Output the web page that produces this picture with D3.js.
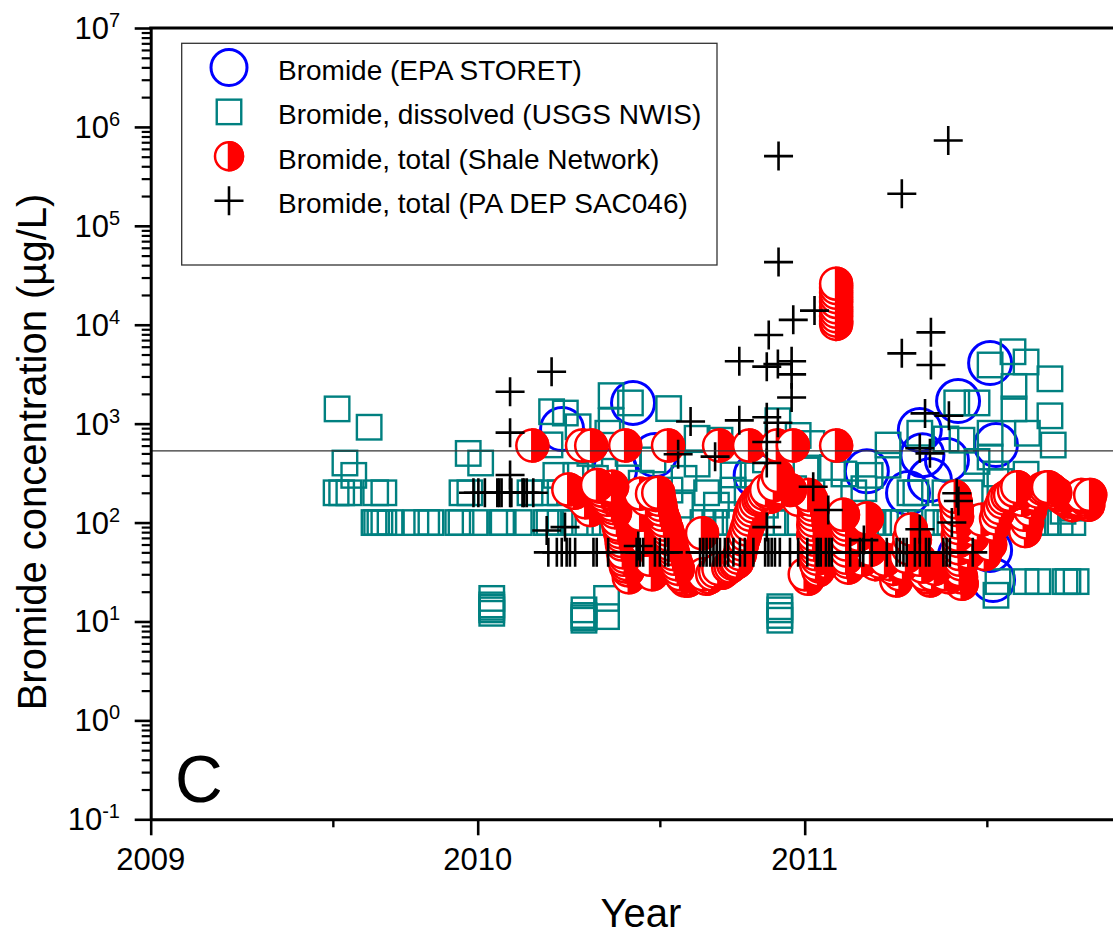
<!DOCTYPE html>
<html>
<head>
<meta charset="utf-8">
<script src="https://cdn.jsdelivr.net/npm/d3@7"></script>
<style>
  body { margin: 0; background: #fff; }
  svg { display: block; }
  text { font-family: "Liberation Sans", Arial, Helvetica, sans-serif; fill: #000; }
</style>
</head>
<body>
<svg id="chart" width="1113" height="936"></svg>
<script>
// ---- axis ticks ----
const yearTicks = [2009, 2010, 2011];
const yearMinorTicks = [2009.557, 2010.557, 2011.557];
const decadeExponents = [-1, 0, 1, 2, 3, 4, 5, 6, 7];

// ---- legend labels ----
const seriesLabels = [
  "Bromide (EPA STORET)",
  "Bromide, dissolved (USGS NWIS)",
  "Bromide, total (Shale Network)",
  "Bromide, total (PA DEP SAC046)"
];

// reference concentration drawn as a horizontal line (µg/L)
const referenceLevel = 530;

// ---- series: [decimal year, bromide µg/L] ----
const epaStoret = [
  [2010.258, 883], [2010.475, 1620], [2010.542, 482], [2010.420, 340], [2010.850, 300],
  [2011.190, 330], [2011.567, 4100], [2011.469, 1690], [2011.352, 863], [2011.435, 429],
  [2011.383, 269], [2011.316, 199], [2011.585, 608], [2011.567, 52.7], [2011.576, 26.2],
  [2011.475, 47], [2011.360, 480]
];

const usgsNwis = [
  [2009.570, 1410], [2009.668, 920], [2009.594, 400], [2009.621, 300],
  [2009.567, 200], [2009.584, 200], [2009.606, 200], [2009.688, 200], [2009.713, 200],
  [2009.683, 100], [2009.691, 100], [2009.701, 100], [2009.713, 100], [2009.732, 100],
  [2009.811, 100], [2009.844, 100], [2009.857, 100], [2009.939, 100], [2009.949, 100],
  [2009.992, 100], [2010.073, 100], [2010.078, 100], [2010.127, 100], [2010.209, 100],
  [2010.218, 100], [2010.252, 100], [2010.298, 100], [2010.337, 100], [2010.389, 100],
  [2010.429, 100], [2010.460, 100], [2010.521, 100], [2010.557, 100], [2010.689, 100],
  [2010.725, 100], [2010.759, 100], [2010.787, 100], [2010.848, 100], [2010.903, 100],
  [2010.943, 100], [2010.986, 100], [2011.019, 100], [2011.100, 100],
  [2011.209, 100], [2011.261, 100], [2011.279, 100], [2011.301, 100], [2011.322, 100],
  [2011.407, 100], [2011.432, 100], [2011.444, 100], [2011.515, 100], [2011.555, 100],
  [2011.583, 100], [2011.600, 100], [2011.637, 100], [2011.659, 100], [2011.677, 100],
  [2011.698, 100], [2011.738, 100], [2011.781, 100], [2011.820, 100],
  [2009.971, 500], [2010.009, 400], [2009.952, 200], [2009.976, 200], [2010.160, 200],
  [2010.206, 200], [2010.252, 200], [2010.239, 300], [2010.226, 1320], [2010.221, 610],
  [2010.268, 1280], [2010.307, 930],
  [2010.043, 17.1], [2010.043, 14.7], [2010.043, 13.9], [2010.043, 13.1], [2010.043, 12.1],
  [2010.325, 13.1], [2010.325, 11.5], [2010.325, 10.9], [2010.325, 10.3],
  [2010.394, 17.1], [2010.394, 11.2],
  [2010.924, 14.1], [2010.924, 13.1], [2010.924, 11.5], [2010.924, 10.3],
  [2010.408, 1920], [2010.467, 1620], [2010.584, 1420], [2010.408, 1070], [2010.398, 800],
  [2010.343, 500], [2010.460, 500], [2010.536, 430], [2010.671, 711], [2010.671, 390],
  [2010.741, 680], [2010.781, 303], [2010.842, 303], [2010.918, 1070], [2010.955, 630],
  [2010.980, 760], [2011.004, 340], [2011.022, 200], [2011.022, 630], [2010.300, 300],
  [2010.360, 280], [2010.389, 330], [2010.430, 200], [2010.631, 280], [2010.781, 213],
  [2010.588, 213], [2010.824, 200], [2010.500, 250], [2010.700, 200], [2010.966, 220],
  [2010.880, 430], [2010.480, 150], [2010.620, 150], [2010.730, 150], [2010.880, 150],
  [2011.085, 360], [2011.120, 310], [2011.200, 300], [2011.181, 220], [2011.150, 200],
  [2011.255, 608], [2011.255, 380], [2011.322, 200], [2011.340, 200], [2011.352, 800],
  [2011.429, 200], [2011.432, 700], [2011.481, 680], [2011.506, 200], [2011.465, 1620],
  [2011.527, 1620], [2011.527, 415], [2011.567, 3920], [2011.567, 800], [2011.567, 460],
  [2011.597, 260], [2011.637, 5330], [2011.677, 4200], [2011.640, 2380], [2011.640, 1410],
  [2011.750, 2840], [2011.750, 1200], [2011.681, 800], [2011.760, 608], [2011.677, 308],
  [2011.585, 310], [2011.790, 130], [2011.815, 140],
  [2011.591, 25.3], [2011.677, 25.3], [2011.713, 25.3], [2011.796, 25.3], [2011.805, 25.3],
  [2011.830, 25.3], [2011.585, 18.4]
];

const shaleNetwork = [
  [2010.167, 600], [2010.319, 600], [2010.347, 600], [2010.451, 600], [2010.582, 600],
  [2010.738, 600], [2010.830, 600], [2010.915, 600], [2010.964, 600], [2011.096, 600],
  [2011.096, 26000], [2011.096, 23500], [2011.096, 21000], [2011.096, 19000], [2011.096, 17000],
  [2011.096, 15000], [2011.096, 13500], [2011.096, 12200], [2011.096, 11000], [2011.096, 10200],
  [2010.277, 216], [2010.295, 200], [2010.329, 160], [2010.344, 134], [2010.365, 240],
  [2010.374, 230], [2010.380, 210], [2010.386, 190], [2010.396, 170], [2010.400, 200],
  [2010.405, 180], [2010.411, 230], [2010.411, 151], [2010.415, 140], [2010.420, 127],
  [2010.426, 107], [2010.430, 95], [2010.432, 89], [2010.435, 80], [2010.438, 73],
  [2010.440, 65], [2010.441, 60], [2010.444, 50], [2010.447, 42], [2010.450, 45],
  [2010.453, 36], [2010.455, 38], [2010.459, 33], [2010.462, 28],
  [2010.497, 196], [2010.515, 170], [2010.533, 196], [2010.545, 190], [2010.552, 200],
  [2010.555, 170], [2010.558, 151], [2010.560, 135], [2010.564, 120], [2010.570, 105],
  [2010.573, 95], [2010.578, 85], [2010.583, 75], [2010.586, 68], [2010.589, 60],
  [2010.594, 54], [2010.598, 48], [2010.602, 43], [2010.607, 38], [2010.612, 34],
  [2010.619, 30], [2010.625, 28], [2010.634, 26], [2010.642, 26], [2010.650, 27],
  [2010.497, 120], [2010.512, 67], [2010.527, 42], [2010.533, 30],
  [2010.686, 78], [2010.690, 30], [2010.699, 27], [2010.708, 28], [2010.717, 30],
  [2010.726, 32], [2010.736, 34], [2010.747, 31], [2010.757, 33], [2010.766, 35],
  [2010.773, 36], [2010.781, 38], [2010.788, 39], [2010.793, 40], [2010.797, 44],
  [2010.802, 48], [2010.805, 54], [2010.808, 60], [2010.812, 67], [2010.817, 75],
  [2010.822, 85], [2010.827, 95], [2010.830, 107], [2010.833, 120], [2010.838, 132],
  [2010.843, 145], [2010.850, 158], [2010.858, 170], [2010.864, 175], [2010.870, 180],
  [2010.876, 195], [2010.882, 213], [2010.888, 200], [2010.894, 182], [2010.900, 210],
  [2010.906, 240], [2010.918, 296], [2010.931, 220],
  [2010.955, 213], [2010.980, 170], [2011.011, 190], [2011.020, 170], [2011.023, 151],
  [2011.024, 135], [2011.026, 120], [2011.028, 105], [2011.026, 95], [2011.028, 85],
  [2011.026, 75], [2011.030, 67], [2011.029, 60], [2011.033, 53], [2011.032, 48],
  [2011.037, 43], [2011.035, 38], [2011.045, 36], [2011.041, 33], [2011.063, 40],
  [2011.000, 30], [2011.010, 27],
  [2011.117, 120], [2011.127, 107], [2011.127, 95], [2011.127, 85], [2011.127, 72],
  [2011.127, 60], [2011.127, 52], [2011.127, 44], [2011.130, 40], [2011.133, 35],
  [2011.164, 75], [2011.176, 42], [2011.190, 110], [2011.200, 53], [2011.216, 38],
  [2011.230, 40], [2011.246, 42], [2011.260, 38], [2011.271, 34], [2011.280, 26],
  [2011.290, 30], [2011.301, 38], [2011.310, 45], [2011.316, 55], [2011.320, 70],
  [2011.325, 85], [2011.337, 67], [2011.352, 42], [2011.360, 36], [2011.368, 30],
  [2011.375, 28], [2011.383, 26], [2011.390, 30], [2011.398, 34],
  [2011.459, 182], [2011.462, 160], [2011.465, 134], [2011.466, 115], [2011.468, 100],
  [2011.470, 88], [2011.468, 75], [2011.470, 65], [2011.471, 55], [2011.472, 48],
  [2011.474, 42], [2011.476, 38], [2011.474, 33], [2011.478, 28], [2011.480, 24],
  [2011.429, 30], [2011.440, 28], [2011.500, 50], [2011.506, 60], [2011.513, 72],
  [2011.520, 85], [2011.530, 95], [2011.541, 107], [2011.551, 48], [2011.567, 60],
  [2011.579, 95], [2011.585, 110], [2011.591, 127], [2011.597, 140], [2011.604, 160],
  [2011.610, 175], [2011.620, 185],
  [2011.628, 190], [2011.640, 210], [2011.650, 228], [2011.658, 200], [2011.665, 170],
  [2011.670, 120], [2011.674, 82], [2011.680, 100], [2011.689, 134], [2011.695, 160],
  [2011.705, 190], [2011.715, 205], [2011.726, 220], [2011.735, 225], [2011.744, 228],
  [2011.755, 215], [2011.766, 200], [2011.776, 190], [2011.787, 178], [2011.796, 170],
  [2011.805, 163], [2011.818, 150], [2011.828, 160], [2011.836, 170], [2011.846, 190],
  [2011.852, 180], [2011.858, 170], [2011.862, 160], [2011.867, 151], [2011.873, 190]
];

const paDep = [
  [2010.920, 507000], [2011.439, 730000], [2011.297, 211000], [2010.920, 43000],
  [2011.030, 13900], [2010.965, 11200], [2010.890, 7870], [2011.386, 8380],
  [2011.297, 5140], [2011.386, 3920], [2010.800, 4270], [2010.884, 3770],
  [2010.918, 4000], [2010.960, 4270], [2010.960, 3150], [2010.960, 1840],
  [2010.884, 1160], [2010.800, 1080], [2010.918, 1020], [2010.884, 652],
  [2010.884, 400], [2010.884, 90], [2011.368, 1270], [2011.441, 1200],
  [2011.352, 564], [2011.383, 501], [2011.026, 230], [2011.072, 134],
  [2011.465, 198], [2011.470, 165], [2011.450, 100], [2011.352, 85.5],
  [2011.181, 66.5], [2010.099, 2100], [2010.226, 3350], [2010.099, 811],
  [2010.099, 303], [2010.211, 83], [2010.267, 90], [2010.491, 58],
  [2010.651, 1050], [2010.613, 490], [2010.726, 464],
  [2009.987, 200], [2010.002, 200], [2010.022, 200], [2010.060, 200], [2010.066, 200],
  [2010.073, 200], [2010.099, 200], [2010.103, 200], [2010.137, 200], [2010.142, 200],
  [2010.150, 200], [2010.170, 200],
  [2010.216, 50], [2010.242, 50], [2010.257, 50], [2010.272, 50], [2010.282, 50],
  [2010.298, 50], [2010.354, 50], [2010.364, 50], [2010.399, 50], [2010.486, 50],
  [2010.496, 50], [2010.506, 50], [2010.542, 50], [2010.557, 50], [2010.573, 50],
  [2010.583, 50], [2010.680, 50], [2010.690, 50], [2010.700, 50], [2010.711, 50],
  [2010.721, 50], [2010.731, 50], [2010.741, 50], [2010.756, 50], [2010.766, 50],
  [2010.782, 50], [2010.802, 50], [2010.817, 50], [2010.843, 50], [2010.879, 50],
  [2010.889, 50], [2010.899, 50], [2010.909, 50], [2010.924, 50], [2010.955, 50],
  [2010.980, 50], [2011.008, 50], [2011.037, 50], [2011.042, 50], [2011.049, 50],
  [2011.065, 50], [2011.075, 50], [2011.083, 50], [2011.139, 50], [2011.169, 50],
  [2011.179, 50], [2011.205, 50], [2011.251, 50], [2011.281, 50], [2011.291, 50],
  [2011.302, 50], [2011.312, 50], [2011.337, 50], [2011.352, 50], [2011.371, 50],
  [2011.381, 50], [2011.424, 50], [2011.434, 50], [2011.444, 50], [2011.514, 50]
];

// ---- layout ----
const svg = d3.select("#chart");
const plotLeft = 150.7, plotTop = 28, plotBottom = 819.3, plotRight = 1113;

const x = d3.scaleLinear().domain([2009, 2012]).range([plotLeft, plotLeft + 3 * 327]);
const y = d3.scaleLog().domain([0.1, 1e7]).range([plotBottom, plotTop]);

const colors = { blue: "#0000ff", teal: "#008080", red: "#ff0000", black: "#000" };

svg.append("defs").append("clipPath").attr("id", "plotArea")
  .append("rect").attr("x", plotLeft).attr("y", plotTop)
  .attr("width", plotRight - plotLeft).attr("height", plotBottom - plotTop);

const plot = svg.append("g").attr("clip-path", "url(#plotArea)");

// marker drawers
function drawCircle(g, cx, cy, r) {
  g.append("circle").attr("cx", cx).attr("cy", cy).attr("r", r)
    .attr("fill", "none").attr("stroke", colors.blue).attr("stroke-width", 3);
}
function drawSquare(g, cx, cy, s) {
  g.append("rect").attr("x", cx - s / 2).attr("y", cy - s / 2)
    .attr("width", s).attr("height", s)
    .attr("fill", "none").attr("stroke", colors.teal).attr("stroke-width", 2.4);
}
function drawHalf(g, cx, cy, r) {
  const m = g.append("g").attr("transform", `translate(${cx},${cy})`);
  m.append("circle").attr("r", r).attr("fill", "#fff")
    .attr("stroke", colors.red).attr("stroke-width", 2.5);
  m.append("path").attr("d", `M0,${-r}A${r},${r} 0 0 1 0,${r}Z`)
    .attr("fill", colors.red).attr("stroke", colors.red).attr("stroke-width", 2.5);
}
function drawPlus(g, cx, cy, a) {
  g.append("path").attr("d", `M${cx - a},${cy}H${cx + a}M${cx},${cy - a}V${cy + a}`)
    .attr("stroke", colors.black).attr("stroke-width", 2.6).attr("fill", "none");
}

const gBlue = plot.append("g");
epaStoret.forEach(d => drawCircle(gBlue, x(d[0]), y(d[1]), 21.5));
const gTeal = plot.append("g");
usgsNwis.forEach(d => drawSquare(gTeal, x(d[0]), y(d[1]), 24.5));
// higher concentrations are stacked over lower ones
const gRed = plot.append("g");
d3.sort(shaleNetwork, d => d[1]).forEach(d => drawHalf(gRed, x(d[0]), y(d[1]), 16));
const gBlack = plot.append("g");
paDep.forEach(d => drawPlus(gBlack, x(d[0]), y(d[1]), 14.5));

// reference line
plot.append("line")
  .attr("x1", plotLeft).attr("x2", plotRight)
  .attr("y1", y(referenceLevel)).attr("y2", y(referenceLevel))
  .attr("stroke", "#333").attr("stroke-width", 1.3);

// ---- axes ----
const majorDecades = decadeExponents.map(e => Math.pow(10, e));
const minorDecades = [];
decadeExponents.slice(0, -1).forEach(e => {
  for (let k = 2; k <= 9; k++) minorDecades.push(k * Math.pow(10, e));
});

function styleAxis(g, w) {
  g.selectAll("path.domain").attr("stroke", "#000").attr("stroke-width", 3);
  g.selectAll(".tick line").attr("stroke", "#000").attr("stroke-width", w);
  g.selectAll(".tick text").remove();
}

const yMinor = svg.append("g").attr("transform", `translate(${plotLeft},0)`)
  .call(d3.axisLeft(y).tickValues(minorDecades).tickSize(9).tickSizeOuter(0).tickFormat(""));
styleAxis(yMinor, 2.2);
yMinor.select("path.domain").remove();

const yMajor = svg.append("g").attr("transform", `translate(${plotLeft},0)`)
  .call(d3.axisLeft(y).tickValues(majorDecades).tickSize(16).tickSizeOuter(0).tickFormat(""));
styleAxis(yMajor, 2.6);

const xMinor = svg.append("g").attr("transform", `translate(0,${plotBottom})`)
  .call(d3.axisBottom(x).tickValues(yearMinorTicks).tickSize(8).tickSizeOuter(0).tickFormat(""));
styleAxis(xMinor, 2.4);
xMinor.select("path.domain").remove();

const xMajor = svg.append("g").attr("transform", `translate(0,${plotBottom})`)
  .call(d3.axisBottom(x).tickValues(yearTicks).tickSize(16).tickSizeOuter(0).tickFormat(""));
styleAxis(xMajor, 2.6);

// top frame line
svg.append("line").attr("x1", plotLeft - 1.5).attr("x2", plotRight)
  .attr("y1", plotTop).attr("y2", plotTop)
  .attr("stroke", "#000").attr("stroke-width", 3);

// y tick labels with superscript exponents
decadeExponents.forEach(e => {
  const t = svg.append("text")
    .attr("x", 120).attr("y", y(Math.pow(10, e)) + 11)
    .attr("text-anchor", "end").attr("font-size", 31);
  t.append("tspan").text("10");
  t.append("tspan").attr("dy", -12).attr("font-size", 20).text(String(e));
});

// x tick labels
yearTicks.forEach(v => {
  svg.append("text").attr("x", x(v)).attr("y", 870)
    .attr("text-anchor", "middle").attr("font-size", 31).text(String(v));
});

// axis titles
svg.append("text")
  .attr("transform", `translate(46,452) rotate(-90)`)
  .attr("text-anchor", "middle").attr("font-size", 40)
  .text("Bromide concentration (µg/L)");

svg.append("text").attr("x", 641).attr("y", 927)
  .attr("text-anchor", "middle").attr("font-size", 40).text("Year");

// panel letter
svg.append("text").attr("x", 175).attr("y", 802)
  .attr("font-size", 66).text("C");

// ---- legend ----
const legend = svg.append("g");
legend.append("rect").attr("x", 181.7).attr("y", 43.3)
  .attr("width", 717 - 181.7).attr("height", 265 - 43.3)
  .attr("fill", "#fff").attr("stroke", "#333").attr("stroke-width", 1.3);

const rowBaselines = [80, 124.4, 168.8, 213.2];
const symX = 229;
drawCircle(legend, symX, rowBaselines[0] - 12.5, 18);
drawSquare(legend, symX, rowBaselines[1] - 12.5, 24.5);
drawHalf(legend, symX, rowBaselines[2] - 12.5, 14);
drawPlus(legend, symX, rowBaselines[3] - 12.5, 14.5);

seriesLabels.forEach((label, i) => {
  legend.append("text").attr("x", 278).attr("y", rowBaselines[i])
    .attr("font-size", 28).text(label);
});
</script>
</body>
</html>
